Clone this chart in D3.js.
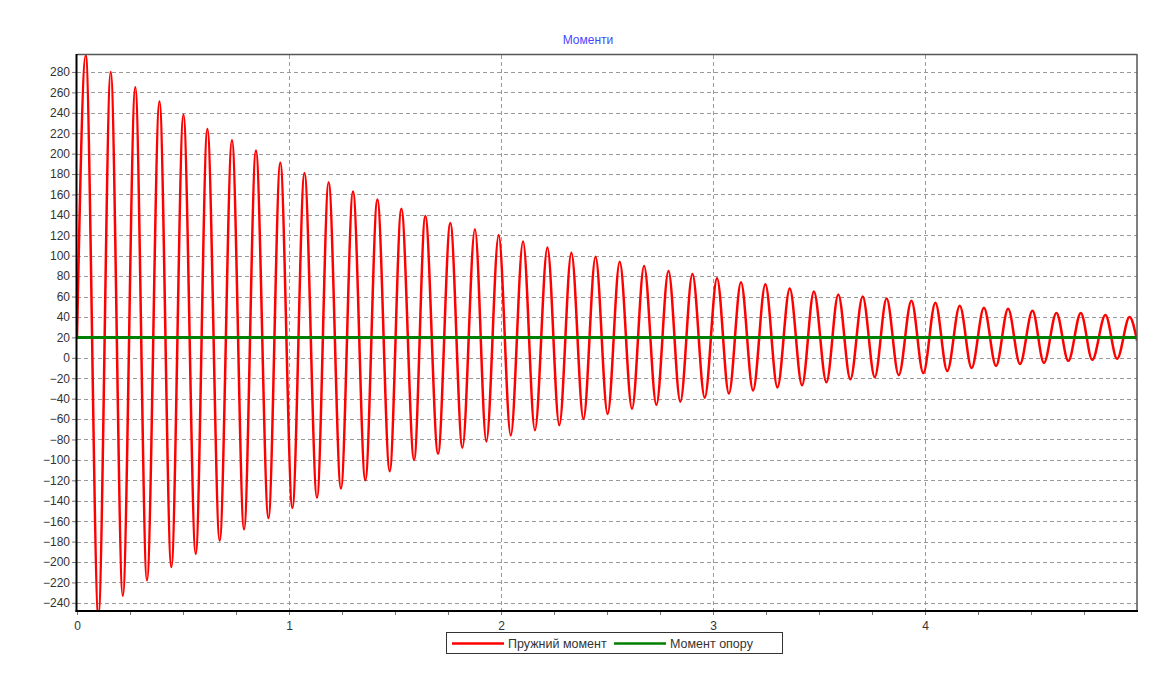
<!DOCTYPE html>
<html>
<head>
<meta charset="utf-8">
<script src="https://cdn.jsdelivr.net/npm/d3@7"></script>
<style>
  body { margin: 0; background: #fff; }
  text { font-family: "Liberation Sans", Arial, sans-serif; }
</style>
</head>
<body>
<div id="chart"></div>
<script>
const WIDTH = 1166;
const HEIGHT = 680;
const PLOT = { LEFT: 77, RIGHT: 1137, TOP: 55, BOTTOM: 611 };

// extrema of "Пружний момент" (time s, value)
const peakTimes = [0.041, 0.159, 0.275, 0.389, 0.502, 0.615, 0.731, 0.844, 0.959, 1.073,
  1.187, 1.302, 1.417, 1.530, 1.643, 1.761, 1.877, 1.989, 2.104, 2.219,
  2.332, 2.446, 2.560, 2.675, 2.790, 2.903, 3.019, 3.132, 3.247, 3.362,
  3.476, 3.591, 3.706, 3.819, 3.936, 4.049, 4.164, 4.278, 4.392, 4.507,
  4.620, 4.735, 4.851, 4.965];
const peakValues = [296, 280, 265, 251, 238, 224, 213, 203, 191, 181,
  172, 163, 155, 146, 139, 132, 126, 120, 114, 108,
  103, 99, 94, 90, 85, 82, 78, 74, 72, 68,
  65, 62, 60, 58, 56, 54, 51, 49, 48, 46,
  44, 44, 42, 40];
const troughTimes = [0.101, 0.216, 0.330, 0.445, 0.560, 0.673, 0.788, 0.903, 1.016, 1.132,
  1.245, 1.360, 1.475, 1.590, 1.703, 1.818, 1.931, 2.046, 2.160, 2.275,
  2.389, 2.503, 2.618, 2.733, 2.846, 2.961, 3.075, 3.189, 3.304, 3.420,
  3.535, 3.648, 3.763, 3.876, 3.992, 4.105, 4.220, 4.335, 4.448, 4.561,
  4.676, 4.789, 4.906];
const troughValues = [-252, -233, -218, -205, -192, -179, -168, -157, -147, -137,
  -128, -120, -111, -100, -94, -88, -82, -76, -71, -66,
  -60, -55, -50, -46, -43, -39, -35, -32, -29, -27,
  -24, -21, -19, -17, -15, -13, -10, -8, -6, -5,
  -3, -2, -1];
const startPoint = [0, 20];
const endPoint = [5.0, 17];

// "Момент опору" is constant
const supportValue = 20;

const yTicks = [-240, -220, -200, -180, -160, -140, -120, -100, -80, -60, -40, -20,
  0, 20, 40, 60, 80, 100, 120, 140, 160, 180, 200, 220, 240, 260, 280];
const xTicks = [0, 1, 2, 3, 4];

const TITLE = "Моменти";
const SERIES = [
  { name: "Пружний момент", color: "#ff0000" },
  { name: "Момент опору", color: "#008000" }
];

let svg = d3.select("#chart")
  .append("svg")
  .attr("width", WIDTH)
  .attr("height", HEIGHT);

let x = d3.scaleLinear().domain([0, 5]).range([PLOT.LEFT, PLOT.RIGHT]);
let y = d3.scaleLinear().domain([-248, 296.6]).range([PLOT.BOTTOM, PLOT.TOP]);

// title
svg.append("text")
  .attr("x", 588)
  .attr("y", 44)
  .attr("text-anchor", "middle")
  .style("font-size", "12px")
  .style("fill", "#4646ff")
  .text(TITLE);

// grid
let grid = svg.append("g").attr("class", "grid")
  .style("stroke", "#9a9a9a")
  .style("stroke-dasharray", "4,3")
  .style("stroke-width", 1);

grid.selectAll(".hgrid")
  .data(yTicks)
  .enter()
  .append("line")
  .attr("x1", PLOT.LEFT)
  .attr("x2", PLOT.RIGHT)
  .attr("y1", d => Math.round(y(d)) + 0.5)
  .attr("y2", d => Math.round(y(d)) + 0.5);

grid.selectAll(".vgrid")
  .data(xTicks.filter(d => d > 0))
  .enter()
  .append("line")
  .attr("x1", d => Math.round(x(d)) + 0.5)
  .attr("x2", d => Math.round(x(d)) + 0.5)
  .attr("y1", PLOT.TOP)
  .attr("y2", PLOT.BOTTOM);

// y-axis
let yAxis = d3.axisLeft(y).tickValues(yTicks).tickSize(5).tickPadding(2);
let yg = svg.append("g")
  .attr("transform", `translate(${PLOT.LEFT},0)`)
  .call(yAxis);
yg.select(".domain").remove();
yg.selectAll(".tick line").attr("stroke", "#777");
yg.selectAll(".tick text")
  .style("font-size", "12px")
  .style("fill", "#333")
  .style("font-family", "'Liberation Sans', Arial, sans-serif");

// x-axis with quarter ticks
let xAxis = d3.axisBottom(x)
  .tickValues(d3.range(0, 5, 0.25))
  .tickSize(4)
  .tickPadding(6)
  .tickFormat(d => (xTicks.includes(d) ? d : ""));
let xg = svg.append("g")
  .attr("transform", `translate(0,${PLOT.BOTTOM})`)
  .call(xAxis);
xg.select(".domain").remove();
xg.selectAll(".tick line").attr("stroke", "#777");
xg.selectAll(".tick text")
  .style("font-size", "12px")
  .style("fill", "#333")
  .style("font-family", "'Liberation Sans', Arial, sans-serif");

// clip
svg.append("clipPath")
  .attr("id", "plot-clip")
  .append("rect")
  .attr("x", PLOT.LEFT)
  .attr("y", PLOT.TOP)
  .attr("width", PLOT.RIGHT - PLOT.LEFT)
  .attr("height", PLOT.BOTTOM - PLOT.TOP);

// spring moment curve through the read extrema
let springPoints = [startPoint]
  .concat(peakTimes.map((t, i) => [t, peakValues[i]]))
  .concat(troughTimes.map((t, i) => [t, troughValues[i]]))
  .concat([endPoint])
  .sort((a, b) => a[0] - b[0]);

let line = d3.line()
  .x(d => x(d[0]))
  .y(d => y(d[1]))
  .curve(d3.curveMonotoneX);

let plot = svg.append("g").attr("clip-path", "url(#plot-clip)");

plot.append("path")
  .datum(springPoints)
  .attr("d", line)
  .style("fill", "none")
  .style("stroke", SERIES[0].color)
  .style("stroke-width", 2.5);

plot.append("path")
  .datum([[0, supportValue], [5, supportValue]])
  .attr("d", line)
  .style("fill", "none")
  .style("stroke", SERIES[1].color)
  .style("stroke-width", 3);

// frame: top/right gray, left/bottom black
svg.append("line")
  .attr("x1", PLOT.LEFT).attr("x2", PLOT.RIGHT)
  .attr("y1", PLOT.TOP - 0.5).attr("y2", PLOT.TOP - 0.5)
  .style("stroke", "#555").style("stroke-width", 1.5);
svg.append("line")
  .attr("x1", PLOT.RIGHT).attr("x2", PLOT.RIGHT)
  .attr("y1", PLOT.TOP - 1).attr("y2", PLOT.BOTTOM)
  .style("stroke", "#555").style("stroke-width", 1.5);
svg.append("line")
  .attr("x1", PLOT.LEFT - 0.5).attr("x2", PLOT.LEFT - 0.5)
  .attr("y1", PLOT.TOP - 1).attr("y2", PLOT.BOTTOM + 1)
  .style("stroke", "#000").style("stroke-width", 2);
svg.append("line")
  .attr("x1", PLOT.LEFT - 1.5).attr("x2", PLOT.RIGHT + 1)
  .attr("y1", PLOT.BOTTOM).attr("y2", PLOT.BOTTOM)
  .style("stroke", "#000").style("stroke-width", 2);

// legend
let legend = svg.append("g").attr("id", "legend");
legend.append("rect")
  .attr("x", 446.5)
  .attr("y", 632.5)
  .attr("width", 336)
  .attr("height", 21)
  .style("fill", "#fff")
  .style("stroke", "#333")
  .style("stroke-width", 1);

const LEGEND_X = [452, 614];
SERIES.forEach((s, i) => {
  legend.append("line")
    .attr("x1", LEGEND_X[i]).attr("x2", LEGEND_X[i] + 52)
    .attr("y1", 643.5).attr("y2", 643.5)
    .style("stroke", s.color)
    .style("stroke-width", 2.5);
  legend.append("text")
    .attr("x", LEGEND_X[i] + 56)
    .attr("y", 648)
    .style("font-size", "12.5px")
    .style("fill", "#333")
    .text(s.name);
});
</script>
</body>
</html>
